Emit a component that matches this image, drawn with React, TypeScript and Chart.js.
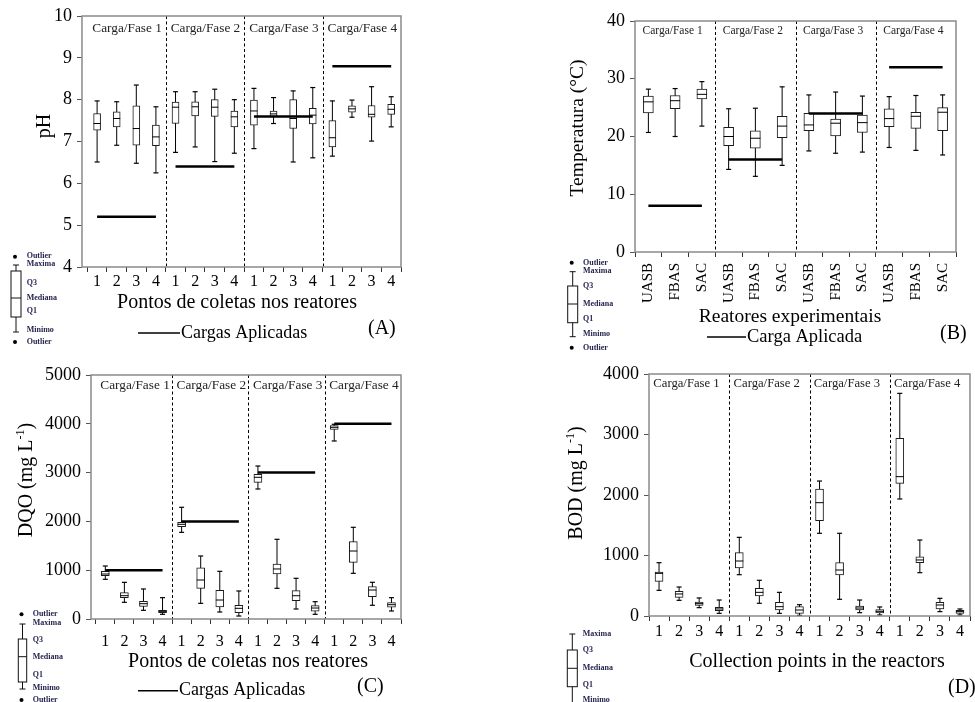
import React, { useEffect, useRef } from "react";
import { Chart, registerables } from "chart.js";

Chart.register(...registerables);

const SERIF = "'Liberation Serif', 'Times New Roman', serif";

// ---------- shared labels ----------
const PHASES = ["Carga/Fase 1", "Carga/Fase 2", "Carga/Fase 3", "Carga/Fase 4"];
const POINT_LABELS = ["1", "2", "3", "4"];
const REACTOR_LABELS = ["UASB", "FBAS", "SAC"];

// ---------- (A) pH ----------
const phMin = [6.51, 6.91, 6.48, 6.25, 6.74, 6.87, 6.52, 6.72, 6.83, 7.43, 6.51, 6.61, 6.65, 7.58, 7.01, 7.35];
const phQ1 = [7.27, 7.35, 6.91, 6.9, 7.43, 7.61, 7.6, 7.35, 7.39, 7.6, 7.31, 7.42, 6.87, 7.7, 7.58, 7.65];
const phMed = [7.43, 7.55, 7.31, 7.11, 7.82, 7.83, 7.82, 7.59, 7.73, 7.66, 7.55, 7.63, 7.09, 7.78, 7.65, 7.77];
const phQ3 = [7.67, 7.71, 7.85, 7.39, 7.94, 7.95, 8.0, 7.73, 7.99, 7.73, 8.0, 7.79, 7.5, 7.85, 7.86, 7.89];
const phMax = [7.97, 7.95, 8.35, 7.83, 8.19, 8.19, 8.25, 8.0, 8.27, 8.05, 8.21, 8.29, 7.97, 7.99, 8.31, 8.07];
const phLoad = [5.2, 6.4, 7.6, 8.8];

// ---------- (B) Temperatura ----------
const tMin = [20.7, 20.0, 21.8, 14.3, 13.1, 15.0, 17.5, 17.1, 17.3, 18.1, 17.6, 16.8];
const tQ1 = [24.1, 24.8, 26.5, 18.4, 18.0, 19.8, 21.0, 20.1, 20.7, 21.7, 21.4, 21.0];
const tMed = [26.0, 26.2, 27.3, 20.0, 19.7, 21.8, 22.0, 22.3, 22.4, 23.1, 23.5, 24.2];
const tQ3 = [27.0, 27.1, 28.2, 21.6, 21.0, 23.5, 24.0, 23.0, 23.7, 24.8, 24.2, 25.0];
const tMax = [28.2, 28.3, 29.5, 24.8, 24.9, 28.6, 27.2, 27.7, 27.0, 26.9, 27.1, 27.2];
const tLoad = [8, 16, 24, 32];

// ---------- (C) DQO ----------
const dqoMin = [813, 342, 178, 96, 1776, 321, 143, 61, 2664, 629, 205, 96, 3648, 936, 281, 164];
const dqoQ1 = [888, 437, 260, 130, 1892, 628, 246, 130, 2801, 922, 375, 158, 3887, 1161, 457, 240];
const dqoMed = [922, 478, 314, 157, 1940, 799, 389, 219, 2904, 1025, 477, 225, 3928, 1393, 594, 293];
const dqoQ3 = [977, 540, 362, 178, 1981, 1051, 588, 280, 2965, 1127, 580, 273, 3961, 1584, 662, 334];
const dqoMax = [1086, 751, 615, 437, 2289, 1291, 977, 574, 3135, 1633, 834, 355, 3990, 1879, 752, 437];
const dqoLoad = [1000, 2000, 3000, 4000];

// ---------- (D) BOD ----------
const bodMin = [424, 259, 138, 44, 683, 210, 44, 11, 1367, 276, 55, 17, 1934, 716, 72, 17];
const bodQ1 = [573, 309, 176, 88, 793, 331, 99, 44, 1575, 678, 99, 50, 2193, 881, 116, 44];
const bodMed = [705, 364, 204, 116, 909, 391, 154, 99, 1873, 760, 132, 77, 2303, 926, 182, 72];
const bodQ3 = [727, 408, 231, 143, 1047, 457, 226, 154, 2099, 881, 165, 105, 2937, 980, 226, 94];
const bodMax = [881, 479, 298, 264, 1300, 590, 391, 187, 2231, 1367, 264, 149, 3680, 1256, 292, 116];

type Part = { t: string; sup?: boolean };
interface Mini {
  wx: number; bl: number; br: number; capT: number; boxT: number; med: number; boxB: number; capB: number;
  dots: number[]; tx: number; labels: [string, number][];
}
interface PanelCfg {
  cats: string[];
  min: number[]; q1: number[]; med: number[]; q3: number[]; max: number[];
  load: number[] | null;
  area: { l: number; r: number; t: number; b: number };
  y: { min: number; max: number; step: number };
  xMin: number;
  xh: number;
  boxW: number; capR: number;
  xTick: { size: number; pad: number; rot: number };
  phaseFont: number; phaseDx: number; phaseDy: number;
  yTitle: { x: number; y: number; size: number; parts: Part[] };
  xTitle: { x: number; y: number; size: number; text: string };
  legend: { x1: number; x2: number; y: number; size: number; text: string } | null;
  letter: { x: number; y: number; size: number; text: string };
  mini: Mini;
}

const PANELS: PanelCfg[] = [
  {
    cats: POINT_LABELS, min: phMin, q1: phQ1, med: phMed, q3: phQ3, max: phMax, load: phLoad,
    area: { l: 82, r: 401, t: 16, b: 267 }, y: { min: 4, max: 10, step: 1 }, xMin: 0.23, xh: 40,
    boxW: 7, capR: 2.5, xTick: { size: 16, pad: 0, rot: 0 },
    phaseFont: 13.3, phaseDx: 5, phaseDy: 13,
    yTitle: { x: 45, y: 126, size: 20, parts: [{ t: "pH" }] },
    xTitle: { x: 237, y: 303, size: 20, text: "Pontos de coletas nos reatores" },
    legend: { x1: 138, x2: 180, y: 333, size: 18, text: "Cargas Aplicadas" },
    letter: { x: 368, y: 329, size: 20, text: "(A)" },
    mini: { wx: 16, bl: 11, br: 21, capT: 265, boxT: 271, med: 298, boxB: 317, capB: 332, dots: [256.7, 342], tx: 26.7,
      labels: [["Outlier", 256], ["Maxima", 264], ["Q3", 283], ["Mediana", 298], ["Q1", 311], ["Minimo", 330], ["Outlier", 342]] },
  },
  {
    cats: REACTOR_LABELS, min: tMin, q1: tQ1, med: tMed, q3: tQ3, max: tMax, load: tLoad,
    area: { l: 635, r: 956, t: 21, b: 252 }, y: { min: 0, max: 40, step: 10 }, xMin: 0.5, xh: 60,
    boxW: 10, capR: 2.5, xTick: { size: 15, pad: 6, rot: 90 },
    phaseFont: 11.5, phaseDx: 7.5, phaseDy: 9.5,
    yTitle: { x: 578, y: 128, size: 19.5, parts: [{ t: "Temperatura (°C)" }] },
    xTitle: { x: 790, y: 317, size: 19.5, text: "Reatores experimentais" },
    legend: { x1: 707, x2: 746, y: 337, size: 18.5, text: "Carga Aplicada" },
    letter: { x: 940, y: 334, size: 20, text: "(B)" },
    mini: { wx: 572.7, bl: 567.7, br: 577.7, capT: 271.7, boxT: 286, med: 304, boxB: 322.7, capB: 336.7, dots: [262.7, 347.7], tx: 583,
      labels: [["Outlier", 262.7], ["Maxima", 270.5], ["Q3", 286], ["Mediana", 304], ["Q1", 319], ["Minimo", 334], ["Outlier", 347.7]] },
  },
  {
    cats: POINT_LABELS, min: dqoMin, q1: dqoQ1, med: dqoMed, q3: dqoQ3, max: dqoMax, load: dqoLoad,
    area: { l: 91, r: 401, t: 375, b: 619 }, y: { min: 0, max: 5000, step: 1000 }, xMin: 0.25, xh: 40,
    boxW: 8, capR: 2.5, xTick: { size: 16, pad: 8, rot: 0 },
    phaseFont: 13.3, phaseDx: 4.5, phaseDy: 11,
    yTitle: { x: 27, y: 480, size: 20, parts: [{ t: "DQO (mg L" }, { t: "-1", sup: true }, { t: ")" }] },
    xTitle: { x: 248, y: 662, size: 20, text: "Pontos de coletas nos reatores" },
    legend: { x1: 138, x2: 178, y: 690.7, size: 18, text: "Cargas Aplicadas" },
    letter: { x: 357, y: 687, size: 20, text: "(C)" },
    mini: { wx: 22.5, bl: 18.3, br: 26.7, capT: 624, boxT: 639, med: 656.7, boxB: 682, capB: 689, dots: [614.3, 700], tx: 32.7,
      labels: [["Outlier", 614.3], ["Maxima", 622.7], ["Q3", 640], ["Mediana", 657], ["Q1", 675], ["Minimo", 688], ["Outlier", 700]] },
  },
  {
    cats: POINT_LABELS, min: bodMin, q1: bodQ1, med: bodMed, q3: bodQ3, max: bodMax, load: null,
    area: { l: 649, r: 973, t: 374, b: 616 }, y: { min: 0, max: 4000, step: 1000 }, xMin: 0.5, xh: 40,
    boxW: 8, capR: 2.5, xTick: { size: 16, pad: 1.5, rot: 0 },
    phaseFont: 12.7, phaseDx: 4.3, phaseDy: 9.5,
    yTitle: { x: 577, y: 483, size: 20, parts: [{ t: "BOD (mg L" }, { t: "-1", sup: true }, { t: ")" }] },
    xTitle: { x: 817, y: 662, size: 20, text: "Collection points in the reactors" },
    legend: null,
    letter: { x: 948, y: 688, size: 20, text: "(D)" },
    mini: { wx: 572.3, bl: 567.3, br: 577.3, capT: 634, boxT: 650, med: 668.3, boxB: 686.7, capB: 706, dots: [], tx: 582.7,
      labels: [["Maxima", 634], ["Q3", 650], ["Mediana", 668], ["Q1", 685], ["Minimo", 700]] },
  },
];

const YW = 60;
const W = 975;
const H = 702;

function drawRotated(ctx: CanvasRenderingContext2D, cx: number, cy: number, size: number, parts: Part[]) {
  ctx.save();
  ctx.translate(cx, cy);
  ctx.rotate(-Math.PI / 2);
  ctx.fillStyle = "#000";
  ctx.textBaseline = "middle";
  ctx.textAlign = "left";
  const fonts = parts.map((p) => `${p.sup ? size * 0.6 : size}px ${SERIF}`);
  let total = 0;
  parts.forEach((p, i) => { ctx.font = fonts[i]; total += ctx.measureText(p.t).width; });
  let x = -total / 2;
  parts.forEach((p, i) => {
    ctx.font = fonts[i];
    ctx.fillText(p.t, x, p.sup ? -size * 0.32 : 0);
    x += ctx.measureText(p.t).width;
  });
  ctx.restore();
}

function drawMini(ctx: CanvasRenderingContext2D, m: Mini) {
  ctx.save();
  ctx.strokeStyle = "#111";
  ctx.lineWidth = 1;
  ctx.beginPath();
  ctx.moveTo(m.wx, m.capT); ctx.lineTo(m.wx, m.capB);
  ctx.moveTo(m.wx - 3, m.capT); ctx.lineTo(m.wx + 3, m.capT);
  ctx.moveTo(m.wx - 3, m.capB); ctx.lineTo(m.wx + 3, m.capB);
  ctx.stroke();
  ctx.fillStyle = "#fff";
  ctx.fillRect(m.bl, m.boxT, m.br - m.bl, m.boxB - m.boxT);
  ctx.strokeRect(m.bl, m.boxT, m.br - m.bl, m.boxB - m.boxT);
  ctx.beginPath();
  ctx.moveTo(m.bl, m.med); ctx.lineTo(m.br, m.med);
  ctx.stroke();
  ctx.fillStyle = "#000";
  m.dots.forEach((d) => { ctx.beginPath(); ctx.arc(m.wx - 1, d, 2, 0, Math.PI * 2); ctx.fill(); });
  ctx.fillStyle = "#25254f";
  ctx.font = `bold 8px ${SERIF}`;
  ctx.textBaseline = "middle";
  ctx.textAlign = "left";
  m.labels.forEach(([t, y]) => ctx.fillText(t, m.tx, y));
  ctx.restore();
}

function makeChart(canvas: HTMLCanvasElement, p: PanelCfg) {
  const per = p.cats.length;
  const n = p.min.length;
  const xs = p.min.map((_, i) => i + 1);
  const whisk = xs.flatMap((x, i) => [{ x, y: p.min[i] }, { x, y: p.max[i] }, { x, y: null as any }]);
  const caps = xs.flatMap((x, i) => [{ x, y: p.min[i] }, { x, y: p.max[i] }]);
  const boxes = xs.map((x, i) => ({ x, y: [p.q1[i], p.q3[i]] }));
  const meds = xs.map((x, i) => ({ x, y: p.med[i] }));
  const loads = p.load
    ? p.load.flatMap((v, k) => [{ x: k * per + 1, y: v }, { x: (k + 1) * per, y: v }, { x: (k + 1) * per, y: null as any }])
    : [];

  const deco = {
    id: "deco",
    beforeDatasetsDraw(chart: any) {
      const { ctx, chartArea: a, scales } = chart;
      const xs2 = scales.x;
      ctx.save();
      ctx.strokeStyle = "#000";
      ctx.lineWidth = 1;
      ctx.setLineDash([3, 2.5]);
      for (let k = 1; k < 4; k++) {
        const px = Math.round(xs2.getPixelForValue(k * per + 0.5)) + 0.5;
        ctx.beginPath(); ctx.moveTo(px, a.top); ctx.lineTo(px, a.bottom); ctx.stroke();
      }
      ctx.restore();
    },
    afterDraw(chart: any) {
      const { ctx, chartArea: a, scales } = chart;
      const sx = scales.x;
      ctx.save();
      ctx.strokeStyle = "#8a8a8a";
      ctx.lineWidth = 1.5;
      ctx.strokeRect(a.left, a.top, a.right - a.left, a.bottom - a.top);
      ctx.fillStyle = "#222";
      ctx.font = `${p.phaseFont}px ${SERIF}`;
      ctx.textBaseline = "middle";
      ctx.textAlign = "left";
      PHASES.forEach((t, k) => {
        const px = sx.getPixelForValue(k * per + 0.5) + p.phaseDx;
        ctx.fillText(t, px, a.top + p.phaseDy);
      });
      ctx.fillStyle = "#000";
      ctx.font = `${p.xTitle.size}px ${SERIF}`;
      ctx.textAlign = "center";
      ctx.fillText(p.xTitle.text, p.xTitle.x, p.xTitle.y);
      drawRotated(ctx, p.yTitle.x, p.yTitle.y, p.yTitle.size, p.yTitle.parts);
      if (p.legend) {
        ctx.strokeStyle = "#000";
        ctx.lineWidth = 1.5;
        ctx.beginPath(); ctx.moveTo(p.legend.x1, p.legend.y); ctx.lineTo(p.legend.x2, p.legend.y); ctx.stroke();
        ctx.font = `${p.legend.size}px ${SERIF}`;
        ctx.textAlign = "left";
        ctx.fillText(p.legend.text, p.legend.x2 + 1, p.legend.y);
      }
      ctx.font = `${p.letter.size}px ${SERIF}`;
      ctx.textAlign = "left";
      ctx.fillText(p.letter.text, p.letter.x, p.letter.y);
      ctx.restore();
      drawMini(ctx, p.mini);
    },
  };

  return new Chart(canvas, {
    type: "bar",
    data: {
      datasets: [
        { type: "line", data: whisk, borderColor: "#000", borderWidth: 1, pointRadius: 0, fill: false, tension: 0, order: 4 } as any,
        { type: "bar", data: boxes, backgroundColor: "#fff", borderColor: "#1a1a1a", borderWidth: 1, borderSkipped: false, barThickness: p.boxW, grouped: false, order: 3 } as any,
        { type: "scatter", data: caps, pointStyle: "line", pointRadius: p.capR, pointHoverRadius: p.capR, pointBorderColor: "#000", pointBorderWidth: 1.2, borderColor: "#000", order: 2 } as any,
        { type: "scatter", data: meds, pointStyle: "line", pointRadius: p.boxW / 2, pointHoverRadius: p.boxW / 2, pointBorderColor: "#000", pointBorderWidth: 1, borderColor: "#000", order: 2 } as any,
        { type: "line", data: loads, borderColor: "#000", borderWidth: 2.5, pointRadius: 0, fill: false, tension: 0, order: 1 } as any,
      ],
    },
    options: {
      responsive: false,
      animation: false,
      events: [],
      layout: { padding: { left: p.area.l - YW, right: W - p.area.r, top: p.area.t, bottom: H - p.area.b - p.xh } },
      plugins: { legend: { display: false }, tooltip: { enabled: false } },
      scales: {
        x: {
          type: "linear",
          min: p.xMin,
          max: n + 0.5,
          offset: false,
          afterBuildTicks: (s: any) => { s.ticks = xs.map((v) => ({ value: v })); },
          afterFit: (s: any) => { s.height = p.xh; },
          grid: { offset: true, drawOnChartArea: false, drawTicks: true, tickLength: 5, color: "#333", lineWidth: 1 },
          border: { display: false },
          ticks: {
            autoSkip: false,
            maxRotation: p.xTick.rot,
            minRotation: p.xTick.rot,
            padding: p.xTick.pad,
            color: "#000",
            font: { family: SERIF, size: p.xTick.size },
            callback: (_v: any, i: number) => p.cats[i % per],
          },
        },
        y: {
          type: "linear",
          min: p.y.min,
          max: p.y.max,
          afterFit: (s: any) => { s.width = YW; },
          grid: { drawOnChartArea: false, tickLength: 5, color: "#555" },
          border: { display: false },
          ticks: { stepSize: p.y.step, padding: 5, color: "#000", font: { family: SERIF, size: 18 }, callback: (v: any) => String(v) },
        },
      },
    } as any,
    plugins: [deco],
  });
}

function PanelChart({ cfg }: { cfg: PanelCfg }) {
  const ref = useRef<HTMLCanvasElement>(null);
  useEffect(() => {
    const c = makeChart(ref.current!, cfg);
    return () => c.destroy();
  }, [cfg]);
  return <canvas ref={ref} width={W} height={H} style={{ position: "absolute", left: 0, top: 0, width: W, height: H }} />;
}

export default function App() {
  return (
    <div style={{ position: "absolute", left: 0, top: 0, width: W, height: H, background: "#fff", overflow: "hidden" }}>
      {PANELS.map((cfg, i) => <PanelChart key={i} cfg={cfg} />)}
    </div>
  );
}
